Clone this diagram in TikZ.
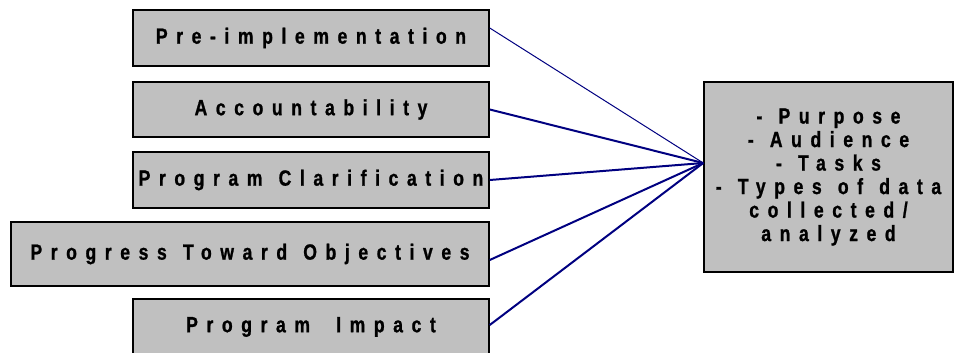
\documentclass[tikz,border=0pt]{standalone}
\usepackage{fontspec}
\newfontfamily\boxfont[LetterSpace=39, FakeStretch=0.8, FakeBold=1, WordSpace=1.2]{Liberation Sans Bold}
\usetikzlibrary{positioning}

\definecolor{boxgray}{RGB}{192,192,192}
\definecolor{linknavy}{RGB}{0,0,128}

\begin{document}
\begin{tikzpicture}[
    x=1pt, y=-1pt, % one unit per pixel, y going down
    stagebox/.style={draw, line width=1.5pt, fill=boxgray, inner sep=0pt,
        minimum width=356pt, minimum height=56pt,
        font=\fontsize{22pt}{23.5pt}\selectfont\boxfont}, % Style for the stage boxes
    link/.style={linknavy, line width=2pt}, % Style for the connecting lines
    thinlink/.style={linknavy, line width=1pt}
]

    % Fix the picture size
    \useasboundingbox (0,0) rectangle (954,353);

    % Stage boxes on the left
    \node[stagebox] (pre) at (311,38) {Pre-implementation};
    \node[stagebox, minimum height=55pt] (acc) at (311,109.5) {Accountability};
    \node[stagebox] (clar) at (311,180) {Program Clarification};
    \node[stagebox, minimum width=478pt, minimum height=64pt] (prog) at (250,254) {Progress Toward Objectives};
    \node[stagebox] (impact) at (311,327) {Program\hspace{10pt} Impact};

    % Box with the aspects on the right
    \node[stagebox, minimum width=249pt, minimum height=190pt, align=center] (aspects) at (828.5,177)
        {- Purpose\\- Audience\\- Tasks\\- Types of data\\collected/\\analyzed};

    % Point where all lines meet
    \coordinate (hub) at ([yshift=14pt]aspects.west);

    % Lines from the stages to the hub
    \draw[thinlink] ([yshift=10pt]pre.east) -- (hub);
    \draw[link] (acc.east) -- (hub);
    \draw[link] (clar.east) -- (hub);
    \draw[link] ([yshift=-6pt]prog.east) -- (hub);
    \draw[link] ([yshift=2pt]impact.east) -- (hub);

\end{tikzpicture}
\end{document}
